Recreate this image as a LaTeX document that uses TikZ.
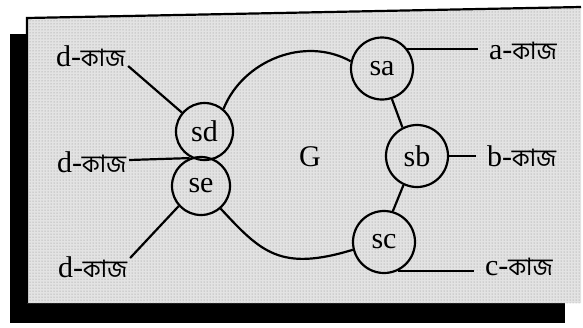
\documentclass[tikz,border=0pt]{standalone}
\usepackage{fontspec}
\setmainfont{Liberation Serif}
\newfontfamily\bnfont[Script=Bengali,Scale=0.8]{Hind Siliguri}
\usetikzlibrary{patterns}
\newcommand\kaj[1]{#1-{\bnfont কাজ}}
\begin{document}
\begin{tikzpicture}[x=1pt,y=-1pt,
  every node/.style={font=\fontsize{30}{34}\selectfont},
  part/.style={circle,draw,line width=2.2pt,inner sep=0pt,minimum size=#1},
  part/.default=62pt,
  jobL/.style={inner sep=0pt,outer xsep=3pt,anchor=base west},
  jobR/.style={inner sep=0pt,outer xsep=11pt,anchor=base west},
  wire/.style={line width=2.2pt}]
\useasboundingbox (0,0) rectangle (583,327);
\fill[white] (0,0) rectangle (583,327);
% drop shadow of the panel
\fill[black] (10,34) rectangle (27,323);
\fill[black] (10,303) rectangle (565,323);
% halftone panel
\fill[gray!22] (27,18) -- (581,7) -- (581,303) -- (27,303) -- cycle;
\fill[pattern=dots,pattern color=gray!90] (27,18) -- (581,7) -- (581,303) -- (27,303) -- cycle;
\draw[line width=2.2pt] (581,7) -- (27,18) -- (27,303);

% sub-systems
\node[part] (sa) at (382,68.5) {sa};
\node[part] (sb) at (417,156) {sb};
\node[part] (sc) at (384,242) {sc};
\node[part=57pt] (sd) at (204.5,131.5) {sd};
\node[part=58pt] (se) at (201,186) {se};
\node (g) at (310,157) {G};

% job labels
\node[jobL] (dt) at (53,66) {\kaj{d}};
\node[jobL] (dm) at (54,172) {\kaj{d}};
\node[jobL] (db) at (55,277) {\kaj{d}};
\node[jobR] (a) at (478,59) {\kaj{a}};
\node[jobR] (b) at (476,166) {\kaj{b}};
\node[jobR] (c) at (474,275) {\kaj{c}};

% boundary of G
\draw[wire] (sd.50) .. controls (242.8,60.8) and (304.3,35.5) .. (sa.167);
\draw[wire] (se.-49) .. controls (260.8,251.8) and (280,272) .. (sc.194);
\draw[wire] (sa.-72) -- (sb.117);
\draw[wire] (sb.245) -- (sc.74);

% job lines
\draw[wire] (dt.base east) -- (sd.140);
\draw[wire] ([yshift=12pt]dm.base east) -- (se.112);
\draw[wire] ([yshift=19pt]db.base east) -- (se.222);
\draw[wire] (sa.38) -- (sa.38 -| a.west);
\draw[wire] (sb.east) -- (sb.east -| b.west);
\draw[wire] (sc.-64) -- (sc.-64 -| c.west);
\end{tikzpicture}
\end{document}
